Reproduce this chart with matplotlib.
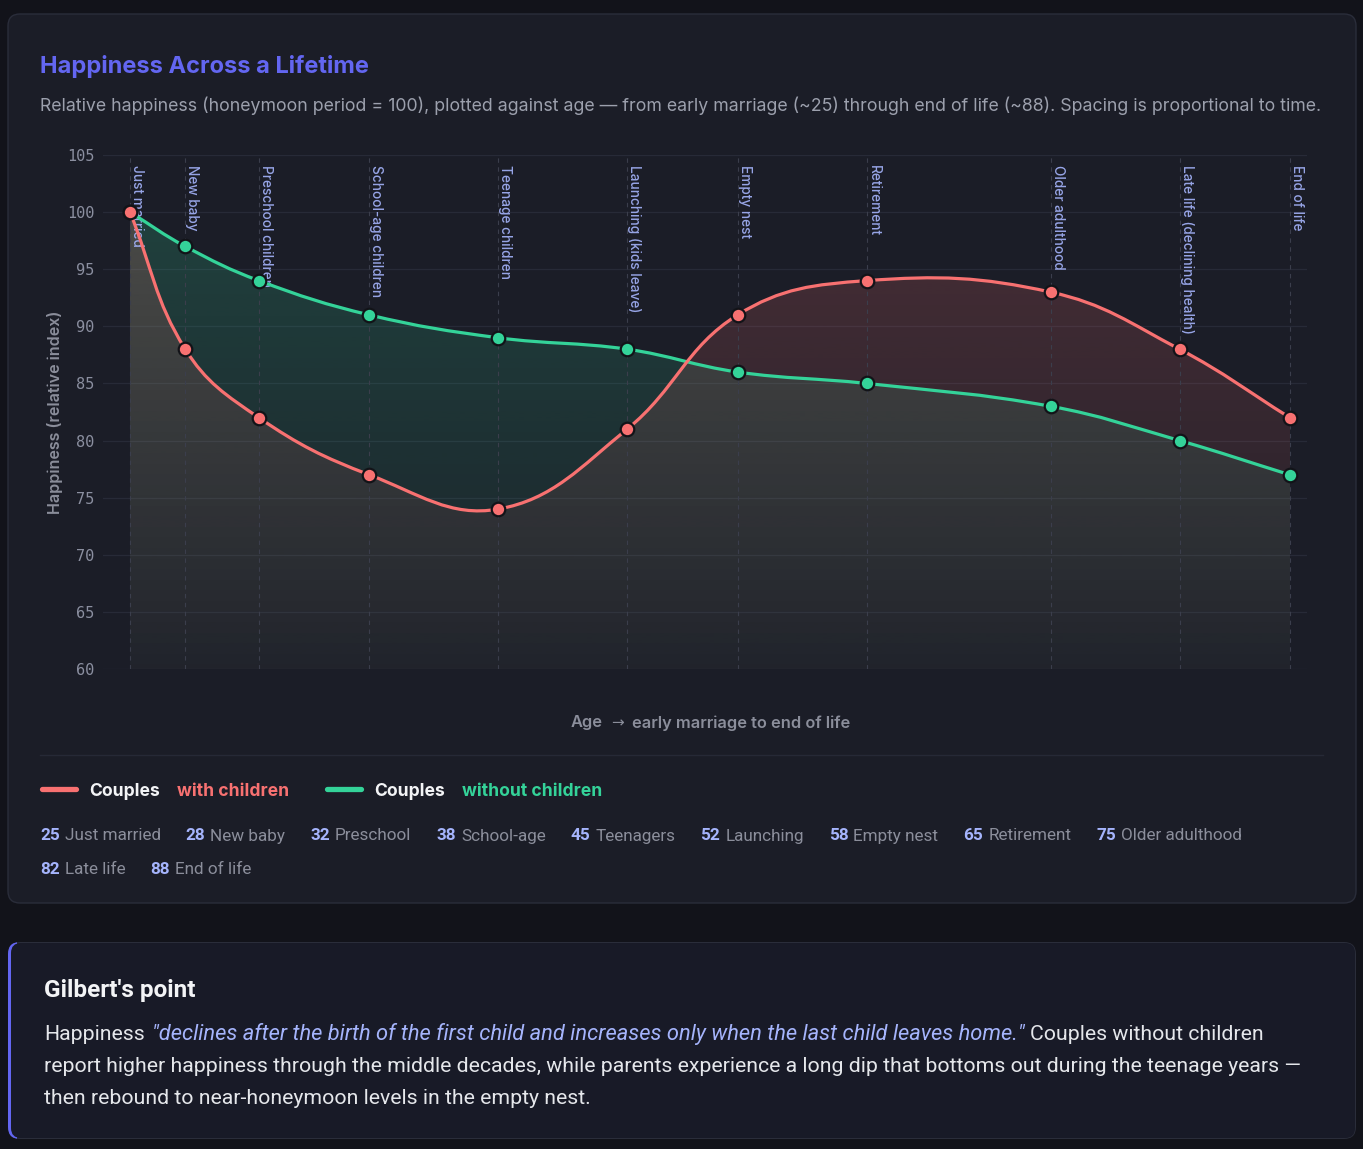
import numpy as np
import matplotlib
matplotlib.use("Agg")
import matplotlib.pyplot as plt
from matplotlib.path import Path
from matplotlib.patches import PathPatch, FancyBboxPatch, Rectangle

plt.rcParams['font.family'] = ['Inter', 'DejaVu Sans']

# data
ages = [25, 28, 32, 38, 45, 52, 58, 65, 75, 82, 88]
with_children = [100, 88, 82, 77, 74, 81, 91, 94, 93, 88, 82]
without_children = [100, 97, 94, 91, 89, 88, 86, 85, 83, 80, 77]
stage_labels = ["Just married", "New baby", "Preschool children", "School-age children",
                "Teenage children", "Launching (kids leave)", "Empty nest", "Retirement",
                "Older adulthood", "Late life (declining health)", "End of life"]
short_labels = ["Just married", "New baby", "Preschool", "School-age", "Teenagers",
                "Launching", "Empty nest", "Retirement", "Older adulthood", "Late life",
                "End of life"]
y_ticks = [60, 65, 70, 75, 80, 85, 90, 95, 100, 105]

PAGE = '#12131a'
CARD = '#1b1d27'
BORDER = '#2a2d3a'
RED = '#f87171'
GREEN = '#34d399'
LAV = '#a5b4fc'
MUTED = '#8b8e9b'
ROBOTO = ['Roboto', 'DejaVu Sans']
DY = 2  # va='center' sits a touch high compared with the browser baseline

W, H = 1363, 1149
fig = plt.figure(figsize=(W / 100, H / 100), dpi=100)
fig.patch.set_facecolor(PAGE)
renderer = fig.canvas.get_renderer()

# background axes in pixel coordinates
bg = fig.add_axes([0, 0, 1, 1])
bg.set_xlim(0, W)
bg.set_ylim(H, 0)
bg.axis('off')
bg.set_zorder(0)

bg.add_patch(FancyBboxPatch((8, 14), 1348, 889, boxstyle='round,pad=0,rounding_size=12',
                            facecolor=CARD, edgecolor=BORDER, lw=1))
# note card: grey border, purple accent on the rounded left edge
bg.add_patch(FancyBboxPatch((8, 942), 1348, 197, boxstyle='round,pad=0,rounding_size=12',
                            facecolor=BORDER, edgecolor='none'))
accent = FancyBboxPatch((8, 942), 1348, 197, boxstyle='round,pad=0,rounding_size=12',
                        facecolor='#6366f1', edgecolor='none')
bg.add_patch(accent)
accent.set_clip_path(Rectangle((0, 930), 17, 220, transform=bg.transData))
bg.add_patch(FancyBboxPatch((11, 943), 1344, 195, boxstyle='round,pad=0,rounding_size=10',
                            facecolor='#181a27', edgecolor='none'))

bg.text(40, 65 + DY, 'Happiness Across a Lifetime', fontsize=17, fontweight='bold',
        color='#6366f1', va='center')
bg.text(40, 104 + DY, 'Relative happiness (honeymoon period = 100), plotted against age \u2014 '
        'from early marriage (~25) through end of life (~88). Spacing is proportional to time.',
        fontsize=12.75, color='#9ca0ad', va='center')

# main plot
L, R, T, B = 103, 1307, 155, 669
ax = fig.add_axes([L / W, 1 - B / H, (R - L) / W, (B - T) / H])
ax.set_zorder(1)
ax.patch.set_alpha(0)
ppy = (1290 - 130) / (ages[-1] - ages[0])
xmin = ages[0] - (130 - L) / ppy
xmax = ages[-1] + (R - 1290) / ppy
ymin, ymax = 60, 105
ppv = (B - T) / (ymax - ymin)


def smooth_path(xs, ys, t=0.4):
    # chart.js style bezier spline computed in pixel space
    px = np.asarray(xs, float) * ppy
    py = np.asarray(ys, float) * ppv
    n = len(px)
    cps = []
    for i in range(n):
        a, c = max(i - 1, 0), min(i + 1, n - 1)
        d01 = np.hypot(px[i] - px[a], py[i] - py[a])
        d12 = np.hypot(px[c] - px[i], py[c] - py[i])
        tot = d01 + d12
        s01, s12 = (d01 / tot, d12 / tot) if tot else (0, 0)
        dx, dy = px[c] - px[a], py[c] - py[a]
        cps.append(((px[i] - t * s01 * dx, py[i] - t * s01 * dy),
                    (px[i] + t * s12 * dx, py[i] + t * s12 * dy)))
    verts = [(xs[0], ys[0])]
    codes = [Path.MOVETO]
    for i in range(1, n):
        c1, c2 = cps[i - 1][1], cps[i][0]
        verts += [(c1[0] / ppy, c1[1] / ppv), (c2[0] / ppy, c2[1] / ppv), (xs[i], ys[i])]
        codes += [Path.CURVE4] * 3
    return verts, codes


def draw_series(vals, color, z):
    verts, codes = smooth_path(ages, vals)
    area = Path(verts + [(ages[-1], ymin), (ages[0], ymin), (ages[0], ymin)],
                codes + [Path.LINETO, Path.LINETO, Path.CLOSEPOLY])
    clip = PathPatch(area, facecolor='none', edgecolor='none')
    ax.add_patch(clip)
    rgb = matplotlib.colors.to_rgb(color)
    grad = np.zeros((256, 1, 4))
    grad[..., :3] = rgb
    grad[:, 0, 3] = np.linspace(0.22, 0.03, 256)
    im = ax.imshow(grad, extent=[ages[0], ages[-1], ymin, ymax], origin='upper',
                   aspect='auto', zorder=1, interpolation='bilinear')
    im.set_clip_path(clip)
    ax.add_patch(PathPatch(Path(verts, codes), fill=False, edgecolor=color, lw=2.3,
                           capstyle='round', joinstyle='round', zorder=z))
    ax.scatter(ages, vals, s=95, color=color, edgecolors='#121318', linewidths=1.6,
               zorder=z + 0.5)


ax.vlines(ages, ymin, ymax, colors='#3b3e4c', linestyles=(0, (4, 4)), lw=0.8, zorder=2)
for a, lab in zip(ages, stage_labels):
    ax.text(a, ymax - 10 / ppv, lab, rotation=270, ha='left', va='top', fontsize=9.8,
            fontweight='medium', color=LAV, alpha=0.9, zorder=2.5)

draw_series(without_children, GREEN, 4)
draw_series(with_children, RED, 6)

ax.set_xlim(xmin, xmax)
ax.set_ylim(ymin, ymax)
ax.set_xticks([])
ax.set_yticks(y_ticks)
for lab in ax.get_yticklabels():
    lab.set_fontfamily('DejaVu Sans Mono')
ax.tick_params(axis='y', length=0, pad=6, labelsize=11, labelcolor='#8b8fa0')
ax.yaxis.grid(True, color='#272a37', lw=0.9)
ax.set_axisbelow(True)
for s in ax.spines.values():
    s.set_visible(False)


def run(x, y, parts, size):
    for s, color, kw in parts:
        t = bg.text(x, y + DY, s, color=color, fontsize=size, va='center', ha='left', **kw)
        x += t.get_window_extent(renderer).width
    return x


def width(s, size, **kw):
    t = bg.text(0, 0, s, fontsize=size, **kw)
    w = t.get_window_extent(renderer).width
    t.remove()
    return w


bg.text(55, (T + B) / 2, 'Happiness (relative index)', rotation=90, ha='center', va='center',
        fontsize=11.6, fontweight='semibold', color=MUTED)
semi = {'fontweight': 'semibold'}
x = run(571, 721, [('Age', MUTED, semi)], 11.8) + 8
x = run(x, 721, [('\u2192', MUTED, {'family': ['DejaVu Sans']})], 11) + 8
run(x, 721, [('early marriage to end of life', MUTED, semi)], 11.8)
bg.plot([40, 1323], [755, 755], color='#262936', lw=1)

# legend
bold = {'fontweight': 'bold'}
for x0, color, word in [(40, RED, 'with children'), (325, GREEN, 'without children')]:
    bg.plot([x0 + 2, x0 + 36], [789, 789], color=color, lw=3.8, solid_capstyle='round')
    x = run(x0 + 49, 789, [('Couples', '#f3f4f6', bold)], 12.6)
    run(x + 17, 789, [(word, color, bold)], 12.6)

# age key, flowing onto a second row
ks = 12.3
key_bold = {'fontweight': 'bold', 'family': ROBOTO}
key_reg = {'family': ROBOTO}
x, y = 40, 834
for a, lab in zip(ages, short_labels):
    w = width(str(a), ks, **key_bold) + 5 + width(lab, ks, **key_reg)
    if x + w > 1320:
        x, y = 40, y + 34
    x = run(x, y, [(str(a), LAV, key_bold)], ks) + 5
    x = run(x, y, [(lab, '#8b8e9b', key_reg)], ks) + 25

# note card
run(44, 988, [("Gilbert's point", '#f3f4f6', {'fontweight': 'bold', 'family': ROBOTO})], 17.5)
body = '#e5e7eb'
reg = {'family': ROBOTO}
ital = {'family': ROBOTO, 'fontstyle': 'italic'}
line2 = ('report higher happiness through the middle decades, while parents experience '
         'a long dip that bottoms out during the teenage years \u2014')
bs = 14.0 * 1262 / width(line2, 14.0, **reg)
x = run(44, 1032, [('Happiness', body, reg)], bs) + 7
x = run(x, 1032, [('"declines after the birth of the first child and increases only when the '
                   'last child leaves home."', LAV, ital)], bs * 1.03) + 6
run(x, 1032, [('Couples without children', body, reg)], bs)
run(44, 1064, [(line2, body, reg)], bs)
run(44, 1096, [('then rebound to near-honeymoon levels in the empty nest.', body, reg)], bs)

fig.savefig('out.png', dpi=100, facecolor=PAGE)
